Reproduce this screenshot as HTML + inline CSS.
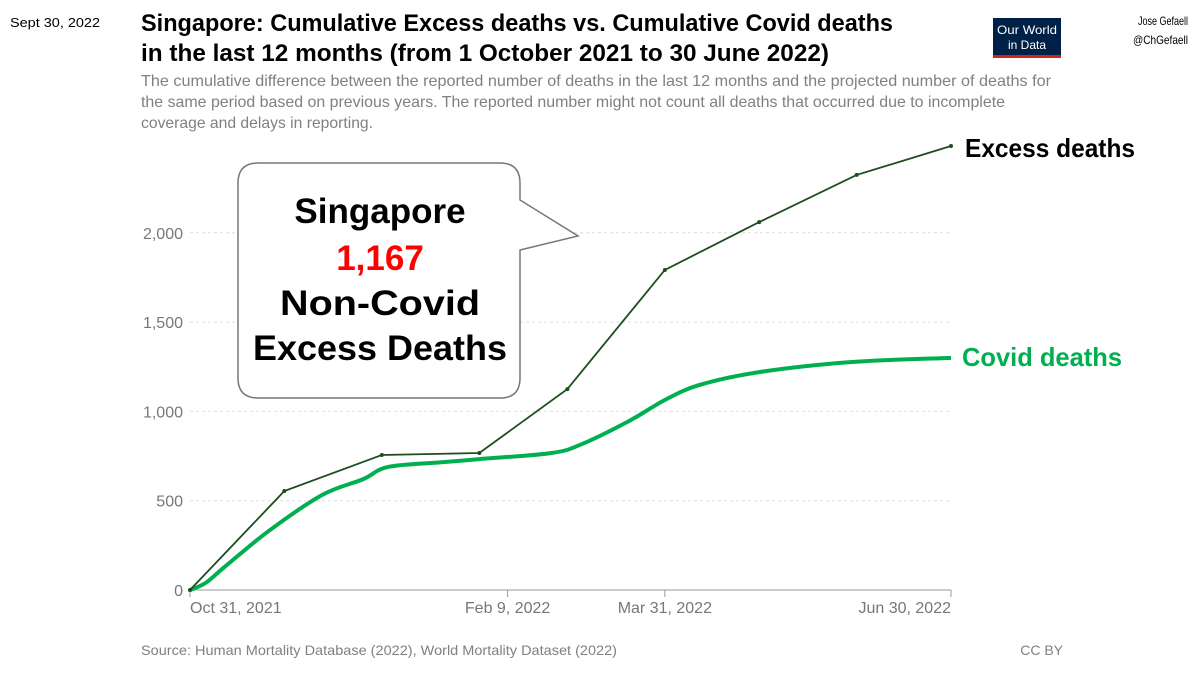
<!DOCTYPE html>
<html><head><meta charset="utf-8"><style>
body{margin:0;background:#fff;}
svg{display:block;font-family:"Liberation Sans",sans-serif;}
</style></head><body>
<svg id="chart" width="1200" height="675" viewBox="0 0 1200 675">
<text x="10" y="27" font-size="13" textLength="90" lengthAdjust="spacingAndGlyphs">Sept 30, 2022</text>
<text x="141" y="31" font-size="24" font-weight="bold" textLength="752" lengthAdjust="spacingAndGlyphs">Singapore: Cumulative Excess deaths vs. Cumulative Covid deaths</text>
<text x="141" y="61" font-size="24" font-weight="bold" textLength="688" lengthAdjust="spacingAndGlyphs">in the last 12 months (from 1 October 2021 to 30 June 2022)</text>
<g fill="#808080" font-size="16">
<text x="141" y="86" textLength="910" lengthAdjust="spacingAndGlyphs">The cumulative difference between the reported number of deaths in the last 12 months and the projected number of deaths for</text>
<text x="141" y="107" textLength="864" lengthAdjust="spacingAndGlyphs">the same period based on previous years. The reported number might not count all deaths that occurred due to incomplete</text>
<text x="141" y="128" textLength="232" lengthAdjust="spacingAndGlyphs">coverage and delays in reporting.</text>
</g>
<g>
<rect x="993" y="18" width="68" height="40" fill="#002147"/>
<rect x="993" y="55" width="68" height="3" fill="#ce261e"/>
<text x="1027" y="34" fill="#fff" font-size="12" text-anchor="middle" textLength="60" lengthAdjust="spacingAndGlyphs">Our World</text>
<text x="1027" y="49" fill="#fff" font-size="12" text-anchor="middle">in Data</text>
</g>
<text x="1188" y="25" font-size="12" text-anchor="end" textLength="50" lengthAdjust="spacingAndGlyphs">Jose Gefaell</text>
<text x="1188" y="44" font-size="12" text-anchor="end" textLength="55" lengthAdjust="spacingAndGlyphs">@ChGefaell</text>
<g id="grid"></g>
<g id="axes"></g>
<g id="series"></g>
<g>
<path d="M258 163 H500 Q520 163 520 183 V200 L578 236 L520 250 V378 Q520 398 500 398 H258 Q238 398 238 378 V183 Q238 163 258 163 Z" fill="#fff" stroke="#777" stroke-width="1.5"/>
<text x="380" y="223" font-size="35" font-weight="bold" text-anchor="middle">Singapore</text>
<text x="380" y="270" font-size="35" font-weight="bold" text-anchor="middle" fill="#ff0000">1,167</text>
<text x="380" y="315" font-size="35" font-weight="bold" text-anchor="middle" textLength="200" lengthAdjust="spacingAndGlyphs">Non-Covid</text>
<text x="380" y="360" font-size="35" font-weight="bold" text-anchor="middle" textLength="254" lengthAdjust="spacingAndGlyphs">Excess Deaths</text>
</g>
<text x="965" y="157" font-size="26" font-weight="bold" textLength="170" lengthAdjust="spacingAndGlyphs">Excess deaths</text>
<text x="962" y="366" font-size="26" font-weight="bold" fill="#00b050" textLength="160" lengthAdjust="spacingAndGlyphs">Covid deaths</text>
<text x="141" y="655" font-size="14" fill="#808080" textLength="476" lengthAdjust="spacingAndGlyphs">Source: Human Mortality Database (2022), World Mortality Dataset (2022)</text>
<text x="1063" y="655" font-size="14" fill="#808080" text-anchor="end">CC BY</text>
</svg>
<script>
const yTicks=[0,500,1000,1500,2000];
const yTickLabels=["0","500","1,000","1,500","2,000"];
const xTickDays=[0,101,151,242];
const xTickLabels=["Oct 31, 2021","Feb 9, 2022","Mar 31, 2022","Jun 30, 2022"];
const excessDays=[0,30,61,92,120,151,181,212,242];
const excessValues=[0,554,756,767,1125,1792,2060,2324,2486];
const covidDays=[0,5,11,25,42,55,63,80,92,115,125,140,151,162,181,210,242];
const covidValues=[0,40,129,330,532,620,689,715,733,767,820,950,1064,1148,1220,1276,1300];
const NS='http://www.w3.org/2000/svg';
const x=d=>190+d/242*761;
const y=v=>590-v*0.1786;
function mk(tag,attrs,parent){const e=document.createElementNS(NS,tag);for(const k in attrs)e.setAttribute(k,attrs[k]);document.getElementById(parent).appendChild(e);return e;}
yTicks.forEach((t,i)=>{
 if(t>0){const l=mk('line',{x1:190,x2:951,y1:y(t),y2:y(t),stroke:'#ddd','stroke-dasharray':'3,3'},'grid');
 
 }
 const tx=mk('text',{x:183,y:y(t)+6,'font-size':16,fill:'#777','text-anchor':'end'},'axes');tx.textContent=yTickLabels[i];
 
 
});
const ax=mk('line',{x1:190,x2:951,y1:590,y2:590,stroke:'#999'},'axes');


xTickDays.forEach((d,i)=>{
 const tk=mk('line',{x1:x(d),x2:x(d),y1:590,y2:597,stroke:'#999'},'axes');
 
 
 const anchor=i==0?'start':(i==xTickDays.length-1?'end':'middle');
 const tx=mk('text',{x:x(d),y:613,'font-size':16,fill:'#777','text-anchor':anchor},'axes');tx.textContent=xTickLabels[i];
 
 
});
function smooth(px){let d='M'+px[0][0]+' '+px[0][1];for(let i=0;i<px.length-1;i++){const p0=px[Math.max(0,i-1)],p1=px[i],p2=px[i+1],p3=px[Math.min(px.length-1,i+2)];d+=' C'+(p1[0]+(p2[0]-p0[0])/6)+' '+(p1[1]+(p2[1]-p0[1])/6)+' '+(p2[0]-(p3[0]-p1[0])/6)+' '+(p2[1]-(p3[1]-p1[1])/6)+' '+p2[0]+' '+p2[1];}return d;}
const cp=covidDays.map((d,i)=>[x(d),y(covidValues[i])]);
const cl=mk('path',{d:smooth(cp),fill:'none',stroke:'#00b050','stroke-width':4,'stroke-linejoin':'round'},'series');


const el=mk('polyline',{points:excessDays.map((d,i)=>x(d)+','+y(excessValues[i])).join(' '),fill:'none',stroke:'#1e4d1e','stroke-width':1.8},'series');


excessDays.forEach((d,i)=>{
 const c=mk('circle',{cx:x(d),cy:y(excessValues[i]),r:2,fill:'#1e4d1e'},'series');
 
 
});
</script>
</body></html>
